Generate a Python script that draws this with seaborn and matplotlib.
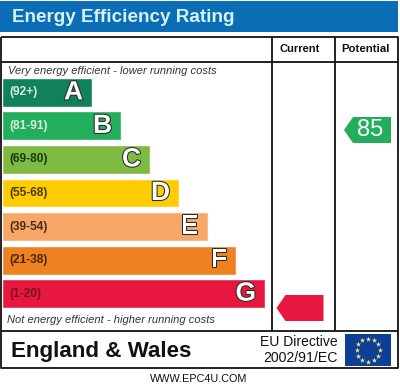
import numpy as np
import matplotlib
matplotlib.use('Agg')
import matplotlib.pyplot as plt
import matplotlib.patheffects as pe
from matplotlib.patches import Polygon, Rectangle
import seaborn as sns

# band data
band_letters = ['A', 'B', 'C', 'D', 'E', 'F', 'G']
band_ranges = ['(92+)', '(81-91)', '(69-80)', '(55-68)', '(39-54)', '(21-38)', '(1-20)']
band_lengths = [90, 119, 148, 177, 205.5, 234, 263]
band_colors = ['#0f8259', '#22ae5a', '#7fbb42', '#ffcc00', '#f7a868', '#ee8220', '#e8173f']
range_colors = ['#d8efe0', '#d8efe0', '#123a10', '#4a3a00', '#4a2a10', '#4a2408', '#7a1020']
potential_rating = '85'
current_band = 'G'
potential_band = 'B'

W, H = 400, 388
sns.set_theme(style='white')
plt.rcParams['font.family'] = ['Liberation Sans', 'DejaVu Sans']

fig = plt.figure(figsize=(W / 100, H / 100), dpi=100)

# background axes in pixel coords
bg = fig.add_axes([0, 0, 1, 1])
bg.set_xlim(0, W)
bg.set_ylim(H, 0)
bg.axis('off')

# header
bg.add_patch(Rectangle((0, 1), 398, 31, color='#0a6db6', lw=0))
bg.text(12, 17, 'Energy Efficiency Rating', color='#d6f1f4', fontsize=13.6,
        fontweight='bold', va='center', ha='left')

# frame
line_kw = dict(color='#111111', lw=1.3, solid_capstyle='butt')
bg.plot([1, 398, 398, 1, 1], [37, 37, 368, 368, 37], **line_kw)
bg.plot([1, 398], [61.5, 61.5], **line_kw)
bg.plot([1, 398], [331, 331], **line_kw)
bg.plot([272, 272], [37, 331], **line_kw)
bg.plot([334.5, 334.5], [37, 331], **line_kw)

bg.text(300, 49, 'Current', fontsize=8, fontweight='bold', ha='center', va='center', color='#111111')
bg.text(366, 49, 'Potential', fontsize=8.2, fontweight='bold', ha='center', va='center', color='#111111')
bg.text(8, 70.5, 'Very energy efficient - lower running costs', fontsize=8, style='italic',
        ha='left', va='center', color='#333333')
bg.text(7, 320, 'Not energy efficient - higher running costs', fontsize=8, style='italic',
        ha='left', va='center', color='#333333')

# footer
bg.text(11, 351, 'England & Wales', fontsize=16.1, fontweight='bold', ha='left', va='center', color='#111111')
bg.text(338, 342, 'EU Directive', fontsize=10, ha='right', va='center', color='#111111')
bg.text(338, 358, '2002/91/EC', fontsize=10.2, ha='right', va='center', color='#111111')
bg.text(199, 379, 'WWW.EPC4U.COM', fontsize=7.8, ha='center', va='center', color='#111111')

# EU flag
bg.add_patch(Rectangle((345, 334), 46, 32, color='#0f3f94', lw=0))
angles = np.arange(12) * np.pi / 6
bg.scatter(368 + 11.5 * np.cos(angles), 350 + 11.5 * np.sin(angles), marker='*', s=16,
           color='#f4e58a', linewidths=0, zorder=3)

# bars, y range picked so band centres land on the picture rows
bar_ax = fig.add_axes([2 / W, 1 - 310.4 / H, 270 / W, (310.4 - 75.6) / H])
sns.barplot(x=band_lengths, y=band_letters, hue=band_letters, palette=band_colors, legend=False,
            orient='h', width=0.86, saturation=1, ax=bar_ax)
bar_ax.set_xlim(0, 270)
bar_ax.set_ylim(6.5, -0.5)
bar_ax.axis('off')
bar_ax.patch.set_alpha(0)

for i, (letter, rng, length) in enumerate(zip(band_letters, band_ranges, band_lengths)):
    bar_ax.text(7.5, i, rng, fontsize=8.6, fontweight='bold', va='center', ha='left', color=range_colors[i])
    bar_ax.text(length - 9, i, letter, fontsize=19, fontweight='bold', va='center', ha='right',
                color='white', path_effects=[pe.withStroke(linewidth=1.5, foreground='#2a2a2a')])


def rating_arrow(right, cy, color):
    # left pointing tag, 47 wide, 26 high
    pts = [(right, cy - 13), (right, cy + 13), (right - 38, cy + 13), (right - 47, cy), (right - 38, cy - 13)]
    bg.add_patch(Polygon(pts, closed=True, color=color, lw=0))


rating_arrow(391, 130, band_colors[band_letters.index(potential_band)])
bg.text(370, 130, potential_rating, color='white', fontsize=17, ha='center', va='center')
rating_arrow(323.5, 308, band_colors[band_letters.index(current_band)])

fig.savefig('out.png', dpi=100)
